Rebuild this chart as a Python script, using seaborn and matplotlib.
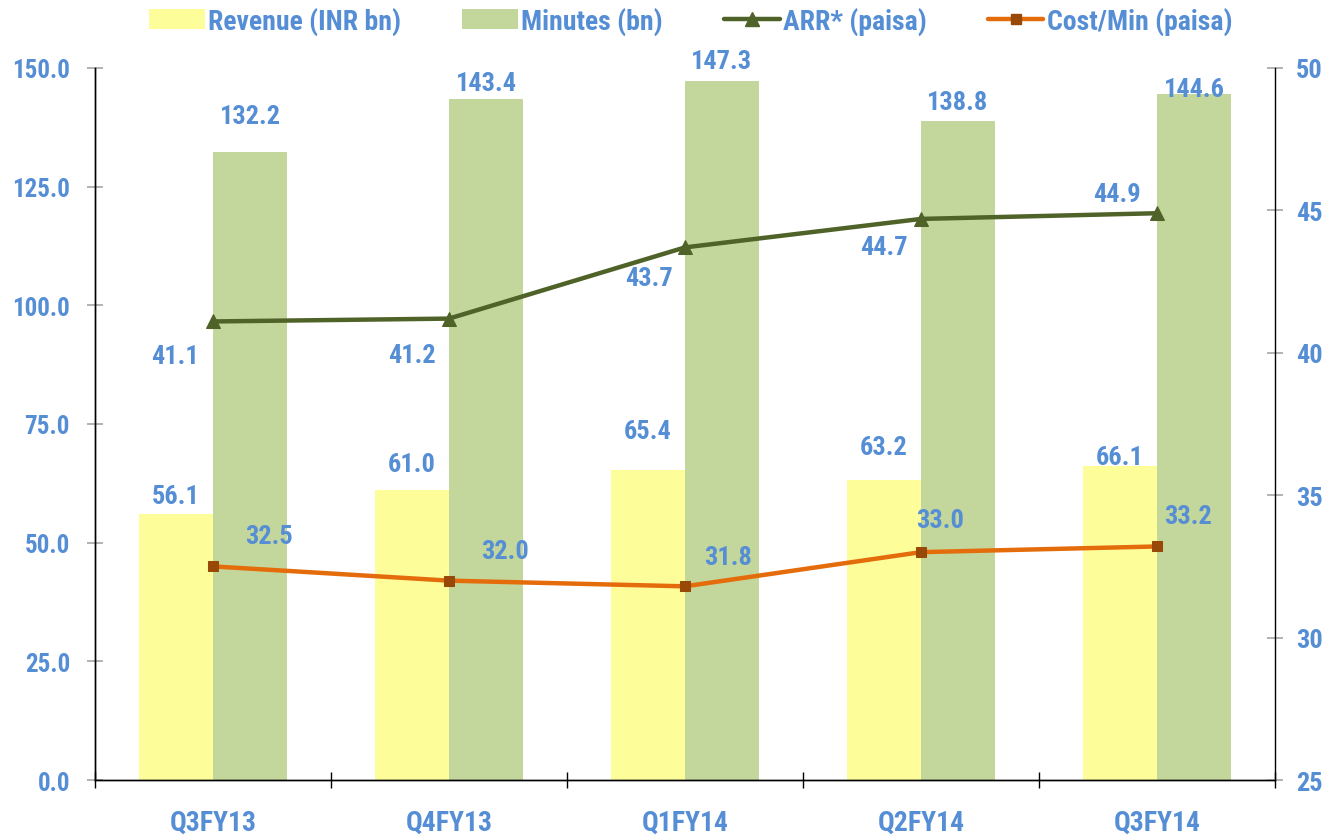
#!/usr/bin/env python3

import pandas as pd
import seaborn as sns
import matplotlib.pyplot as plt
from matplotlib.lines import Line2D
from matplotlib.patches import Patch


quarters = ["Q3FY13", "Q4FY13", "Q1FY14", "Q2FY14", "Q3FY14"]
revenue = [56.1, 61.0, 65.4, 63.2, 66.1]
minutes = [132.2, 143.4, 147.3, 138.8, 144.6]
arr = [41.1, 41.2, 43.7, 44.7, 44.9]
cost_min = [32.5, 32.0, 31.8, 33.0, 33.2]

series_names = ["Revenue (INR bn)", "Minutes (bn)", "ARR* (paisa)",
                "Cost/Min (paisa)"]

BLUE = "#558ED5"
YELLOW = "#FDFD9A"
GREEN = "#C3D69B"
OLIVE = "#4F6228"
ORANGE = "#E46C0A"
BROWN = "#984807"
FS = 18

sns.set_theme(style="white")
plt.rcParams["font.family"] = ["Roboto Condensed", "DejaVu Sans"]
plt.rcParams["font.weight"] = "bold"

bars = pd.DataFrame({
    "quarter": quarters * 2,
    "value": revenue + minutes,
    "series": [series_names[0]] * len(quarters) + [series_names[1]] * len(quarters),
})
lines = pd.DataFrame({"quarter": quarters, "arr": arr, "cost": cost_min})

fig = plt.figure(figsize=(13.36, 8.37), dpi=100)
ax = fig.add_axes([0.0711, 0.0669, 0.8832, 0.8507])

sns.barplot(data=bars, x="quarter", y="value", hue="series",
            palette=[YELLOW, GREEN], width=0.627, gap=0, saturation=1,
            linewidth=0, legend=False, ax=ax)

ax2 = ax.twinx()
sns.lineplot(data=lines, x="quarter", y="arr", sort=False, color=OLIVE,
             lw=3.2, marker="^", markersize=10, markeredgecolor=OLIVE,
             ax=ax2)
sns.lineplot(data=lines, x="quarter", y="cost", sort=False, color=ORANGE,
             lw=3.2, marker="s", markersize=7, markerfacecolor=BROWN,
             markeredgecolor=BROWN, ax=ax2)

ax.set_xlim(-0.5, len(quarters) - 0.5)
ax.set_ylim(0, 150)
ax2.set_ylim(25, 50)
ax.set_yticks([0, 25, 50, 75, 100, 125, 150])
ax.set_yticklabels([f"{v:.1f}" for v in ax.get_yticks()])
ax2.set_yticks([25, 30, 35, 40, 45, 50])
ax.set(xlabel="", ylabel="")
ax2.set(xlabel="", ylabel="")

# spines
for a in (ax, ax2):
    a.spines["top"].set_visible(False)
    for s in ("left", "right", "bottom"):
        a.spines[s].set_color("black")
        a.spines[s].set_linewidth(1.0)
ax.spines["right"].set_visible(False)

# ticks
ax.tick_params(axis="y", which="major", direction="inout", length=12,
               width=1.2, color="#A6A6A6", labelsize=FS, labelcolor=BLUE,
               pad=12, left=True)
ax2.tick_params(axis="y", which="major", direction="inout", length=12,
                width=1.2, color="#A6A6A6", labelsize=FS + 1, labelcolor=BLUE,
                pad=9, right=True)
ax.set_xticks([i - 0.5 for i in range(len(quarters) + 1)], minor=True)
ax.tick_params(axis="x", which="minor", direction="inout", length=12,
               width=1.0, color="black", bottom=True)
ax.tick_params(axis="x", which="major", length=0, labelsize=FS + 2,
               labelcolor=BLUE, pad=21)
for lab in ax.get_xticklabels() + ax.get_yticklabels() + ax2.get_yticklabels():
    lab.set_fontweight("bold")

# data labels (offsets in points)
rev_dy = [13, 19, 28, 24, 7]
min_dy = [26, 12, 14, 14, 3]
arr_off = [(-27, -25), (-27, -26), (-26, -22), (-27, -20), (-29, 14)]
cost_off = [(40, 22), (40, 21), (31, 21), (14, 23), (22, 22)]

lbl = dict(color=BLUE, fontsize=FS + 1, fontweight="bold", ha="center",
           va="center", textcoords="offset points")
for bar, v, dy in zip(ax.containers[0], revenue, rev_dy):
    ax.annotate(f"{v:.1f}", (bar.get_x() + bar.get_width() / 2, v),
                xytext=(0, dy), **lbl)
for bar, v, dy in zip(ax.containers[1], minutes, min_dy):
    ax.annotate(f"{v:.1f}", (bar.get_x() + bar.get_width() / 2, v),
                xytext=(0, dy), **lbl)
for i, (v, off) in enumerate(zip(arr, arr_off)):
    ax2.annotate(f"{v:.1f}", (i, v), xytext=off, **lbl)
for i, (v, off) in enumerate(zip(cost_min, cost_off)):
    ax2.annotate(f"{v:.1f}", (i, v), xytext=off, **lbl)

# legend
handles = [
    Patch(facecolor=YELLOW, edgecolor="none"),
    Patch(facecolor=GREEN, edgecolor="none"),
    Line2D([], [], color=OLIVE, lw=3.2, marker="^", markersize=10),
    Line2D([], [], color=ORANGE, lw=3.2, marker="s", markersize=7,
           markerfacecolor=BROWN, markeredgecolor=BROWN),
]
fig.legend(handles, series_names, loc="center", ncol=4,
           bbox_to_anchor=(0.517, 0.974), frameon=False,
           prop={"size": FS + 2, "weight": "bold"}, labelcolor=BLUE,
           handlelength=2.0, handleheight=0.75, handletextpad=0.12,
           columnspacing=2.2)

plt.savefig("out.png", dpi=100)
